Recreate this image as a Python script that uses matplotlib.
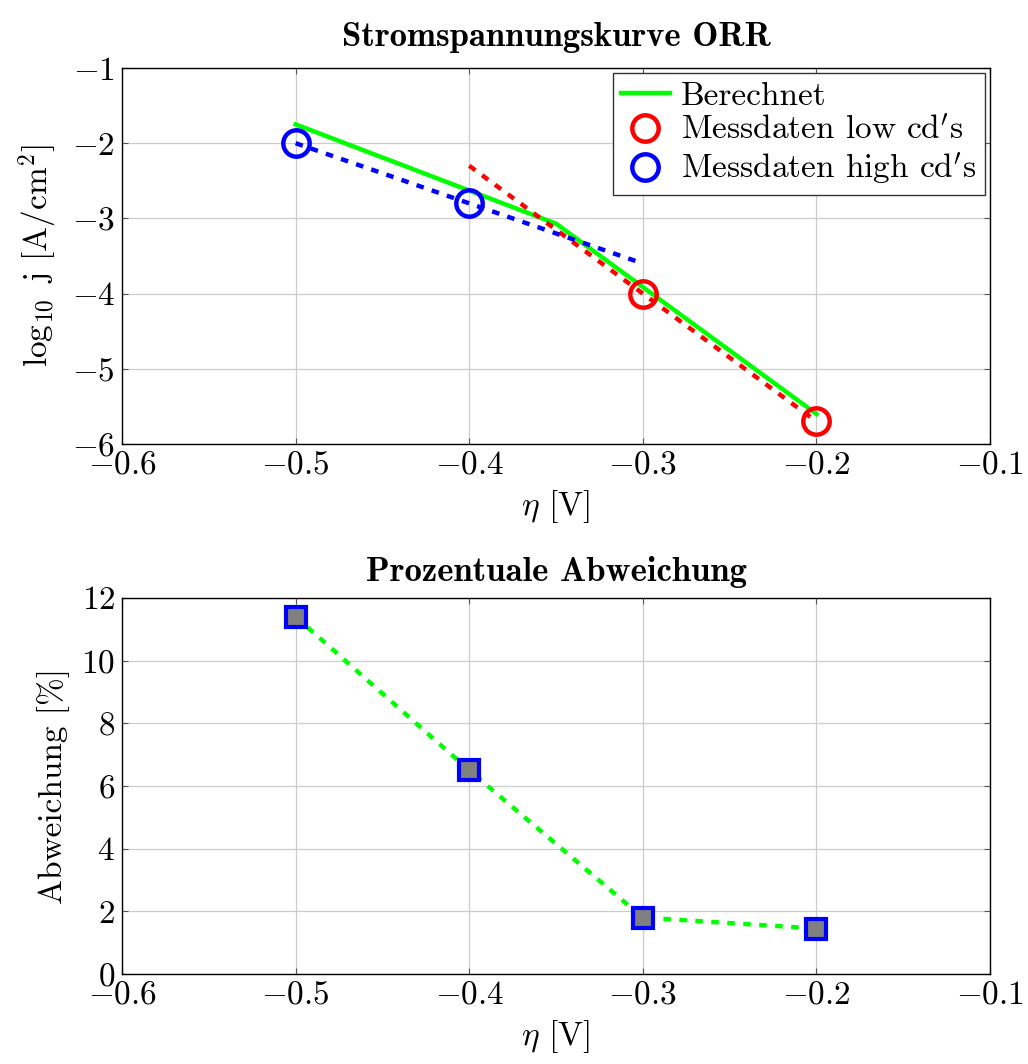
import matplotlib
matplotlib.use('Agg')
import matplotlib.pyplot as plt

plt.rcParams['font.family'] = ['cmr10', 'DejaVu Serif']
plt.rcParams['mathtext.fontset'] = 'cm'
plt.rcParams['axes.formatter.use_mathtext'] = True
plt.rcParams['font.size'] = 24

# data
eta_calc = [-0.5, -0.35, -0.2]
logj_calc = [-1.75, -3.07, -5.6]
eta_low = [-0.3, -0.2]
logj_low = [-4.0, -5.7]
eta_high = [-0.5, -0.4]
logj_high = [-2.0, -2.8]
# fit lines through measurements
eta_fit_low = [-0.4, -0.2]
logj_fit_low = [-2.3, -5.7]
eta_fit_high = [-0.5, -0.3]
logj_fit_high = [-2.0, -3.6]

eta_dev = [-0.5, -0.4, -0.3, -0.2]
dev = [11.4, 6.5, 1.8, 1.45]

green = '#00ff00'
dots = (0, (1.7, 1.9))
fs = 24

fig = plt.figure(figsize=(10.28, 10.64), dpi=100)
ax1 = fig.add_axes([0.1187, 0.5827, 0.8444, 0.3534])
ax2 = fig.add_axes([0.1187, 0.0846, 0.8444, 0.3534])

def style(ax):
    ax.grid(True, color='#cccccc', linewidth=0.9)
    ax.set_axisbelow(True)
    ax.tick_params(direction='in', top=True, right=True, length=4,
                   color='#555555', labelsize=fs, pad=5)
    for s in ax.spines.values():
        s.set_linewidth(1.0)
        s.set_color('black')
    ax.set_xlim(-0.6, -0.1)
    ax.set_xticks([-0.6, -0.5, -0.4, -0.3, -0.2, -0.1])

# top
ax1.plot(eta_calc, logj_calc, color=green, lw=3.2, label='Berechnet', zorder=3)
ax1.plot(eta_fit_low, logj_fit_low, color='red', lw=3.2, linestyle=dots, zorder=4)
ax1.plot(eta_fit_high, logj_fit_high, color='blue', lw=3.2, linestyle=dots, zorder=4)
ax1.plot(eta_low, logj_low, 'o', ms=19, mfc='none', mec='red', mew=3.2,
         label=r'Messdaten low cd$^\prime$s', zorder=5)
ax1.plot(eta_high, logj_high, 'o', ms=19, mfc='none', mec='blue', mew=3.2,
         label=r'Messdaten high cd$^\prime$s', zorder=5)
style(ax1)
ax1.set_ylim(-6, -1)
ax1.set_yticks([-6, -5, -4, -3, -2, -1])
ax1.set_xlabel(r'$\eta$ [V]', fontsize=fs, labelpad=6)
ax1.set_ylabel(r'$\log_{10}$ j [A/cm$^2$]', fontsize=fs, labelpad=8)
ax1.set_title('Stromspannungskurve ORR', fontsize=25, fontfamily='cmb10', pad=16)
leg = ax1.legend(loc='upper right', fontsize=fs, frameon=True, fancybox=False,
                 edgecolor='#333333', framealpha=1, handlelength=1.45,
                 borderpad=0.25, labelspacing=0.15, handletextpad=0.35,
                 borderaxespad=0.15)
leg.get_frame().set_linewidth(1.0)

# bottom
ax2.plot(eta_dev, dev, color=green, lw=3.2, linestyle=dots, marker='s', ms=15,
         mfc='#808080', mec='blue', mew=3)
style(ax2)
ax2.set_ylim(0, 12)
ax2.set_yticks([0, 2, 4, 6, 8, 10, 12])
ax2.set_xlabel(r'$\eta$ [V]', fontsize=fs, labelpad=6)
ax2.set_ylabel('Abweichung [%]', fontsize=fs, labelpad=8)
ax2.set_title('Prozentuale Abweichung', fontsize=25, fontfamily='cmb10', pad=12)

fig.savefig('out.png', dpi=100)
